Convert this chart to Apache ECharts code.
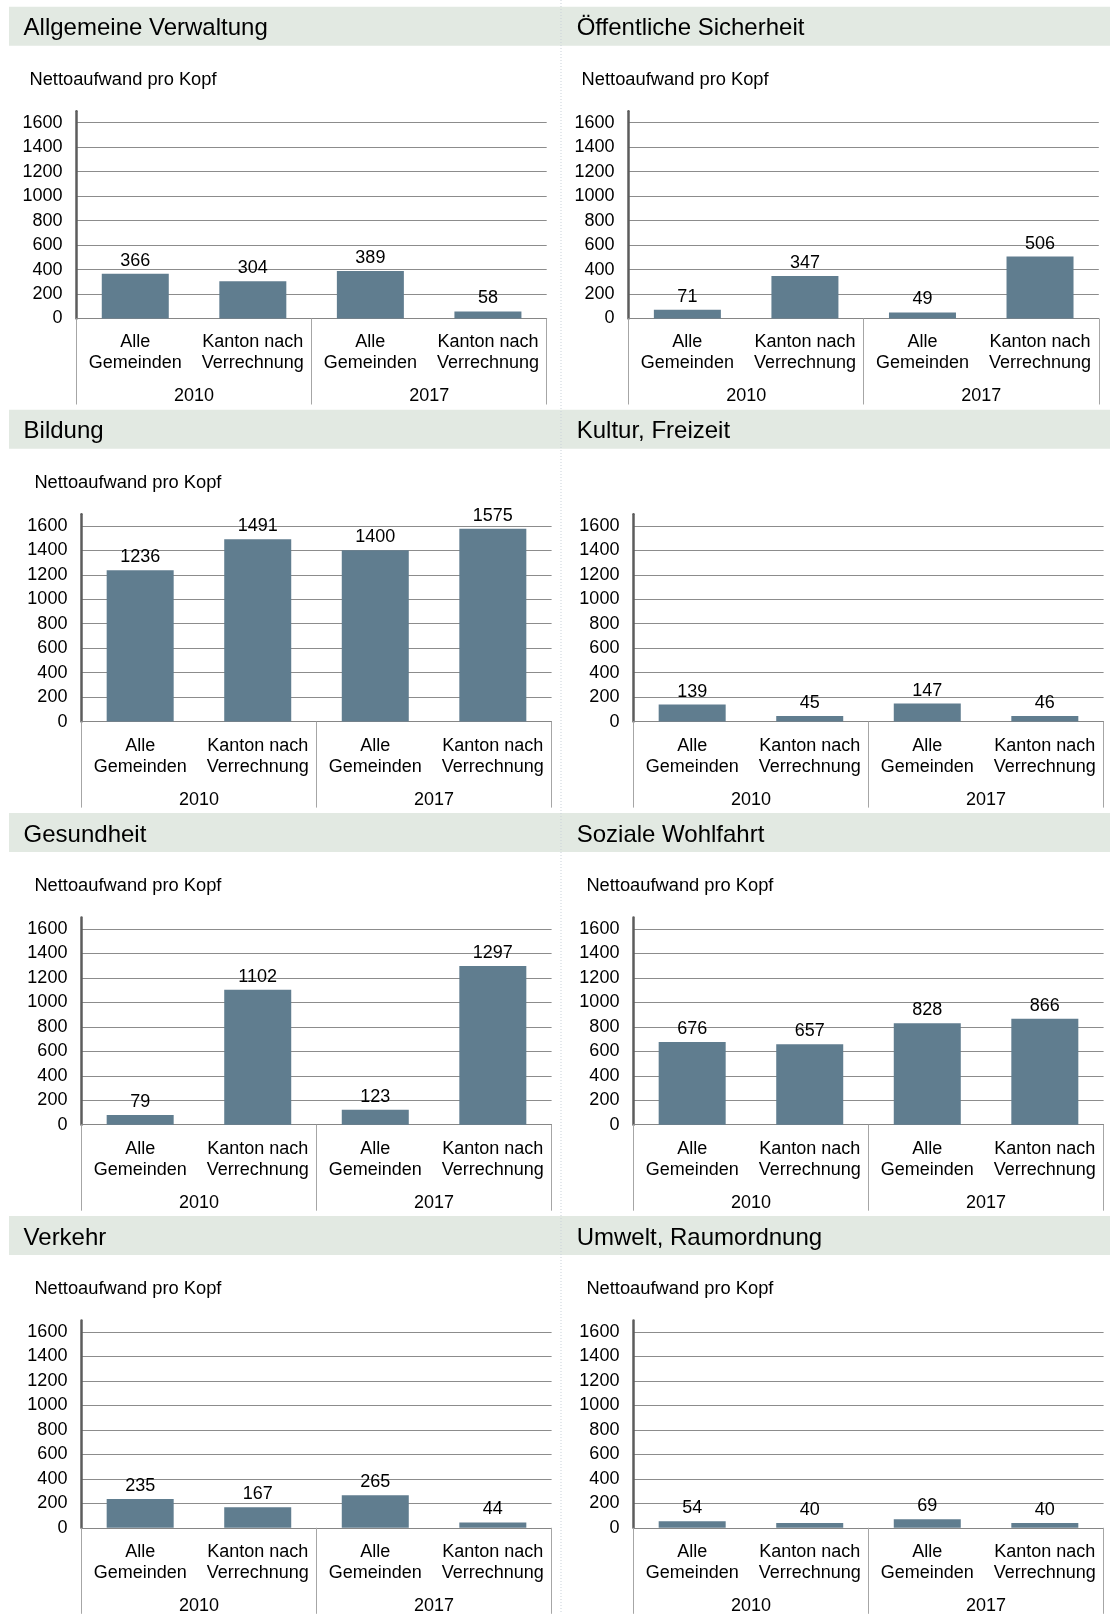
<!DOCTYPE html>
<html>
<head>
<meta charset="utf-8">
<script src="https://cdn.jsdelivr.net/npm/echarts@6/dist/echarts.min.js"></script>
<style>
html,body{margin:0;padding:0;background:#ffffff;}
#c{width:1110px;height:1614px;}
</style>
</head>
<body>
<div id="c"></div>
<script>
// ---- data ----
const categories = ['Alle\nGemeinden', 'Kanton nach\nVerrechnung', 'Alle\nGemeinden', 'Kanton nach\nVerrechnung'];
const years = ['2010', '2017'];
const yMin = 0;
const yTickInterval = 200;
const yTopTick = 1600;
const subtitleText = 'Nettoaufwand pro Kopf';

const allgemeineVerwaltung = [366, 304, 389, 58];
const oeffentlicheSicherheit = [71, 347, 49, 506];
const bildung = [1236, 1491, 1400, 1575];
const kulturFreizeit = [139, 45, 147, 46];
const gesundheit = [79, 1102, 123, 1297];
const sozialeWohlfahrt = [676, 657, 828, 866];
const verkehr = [235, 167, 265, 44];
const umweltRaumordnung = [54, 40, 69, 40];

const panels = [
  { title: 'Allgemeine Verwaltung', sub: true, values: allgemeineVerwaltung },
  { title: 'Öffentliche Sicherheit', sub: true, values: oeffentlicheSicherheit },
  { title: 'Bildung', sub: true, values: bildung },
  { title: 'Kultur, Freizeit', sub: false, values: kulturFreizeit },
  { title: 'Gesundheit', sub: true, values: gesundheit },
  { title: 'Soziale Wohlfahrt', sub: true, values: sozialeWohlfahrt },
  { title: 'Verkehr', sub: true, values: verkehr },
  { title: 'Umwelt, Raumordnung', sub: true, values: umweltRaumordnung }
];

// ---- styling / layout ----
const FONT = "'Liberation Sans', Arial, Helvetica, sans-serif";
const BAND = '#e2e9e2';
const BAR = '#607d8f';
const ROW_STEP = 403.1;
const PX_PER_UNIT = 195.8 / 1600;
const AXIS_TOP_EXTRA = 104.5; // grid top offset from band top
const ZERO_OFFSET = 311.8;     // zero line offset from band top
const gridHeight = ZERO_OFFSET - AXIS_TOP_EXTRA;
const yMax = yTopTick + (gridHeight - 195.8) / PX_PER_UNIT;

const grid = [], xAxis = [], yAxis = [], series = [], title = [], graphic = [];

panels.forEach((p, i) => {
  const r = Math.floor(i / 2), c = i % 2;
  const bandTop = 6.7 + ROW_STEP * r;
  const gl = c === 0 ? (r === 0 ? 76.5 : 81.4) : (r === 0 ? 628.6 : 633.4);
  const bandLeft = c === 0 ? 9 : 561;
  const bandRight = c === 0 ? 561 : 1110;

  graphic.push({
    type: 'rect', z: 0, silent: true,
    shape: { x: bandLeft, y: bandTop, width: bandRight - bandLeft, height: 39 },
    style: { fill: BAND }
  });

  title.push({
    text: p.title, left: c === 0 ? 23.6 : 576.7, top: bandTop + 7, padding: 0,
    textStyle: { fontFamily: FONT, fontSize: 24, fontWeight: 'normal', color: '#000', lineHeight: 30 }
  });
  if (p.sub) {
    title.push({
      text: subtitleText, left: gl - 47, top: bandTop + 61, padding: 0,
      textStyle: { fontFamily: FONT, fontSize: 18.3, fontWeight: 'normal', color: '#000', lineHeight: 24 }
    });
  }

  grid.push({
    left: gl, top: bandTop + AXIS_TOP_EXTRA, width: 470.2, height: gridHeight,
    containLabel: false, outerBoundsMode: 'none'
  });

  xAxis.push({
    type: 'category', gridIndex: i, data: categories, position: 'bottom',
    axisLine: { show: true, onZero: false, lineStyle: { color: '#868686', width: 1 } },
    axisTick: { show: false },
    splitLine: { show: false },
    axisLabel: { interval: 0, margin: 13.5, fontFamily: FONT, fontSize: 18, lineHeight: 21, color: '#000', hideOverlap: false }
  });
  xAxis.push({
    type: 'category', gridIndex: i, data: years, position: 'bottom', offset: 0,
    axisLine: { show: false },
    axisTick: { show: true, length: 86, lineStyle: { color: '#a6a6a6', width: 1 } },
    splitLine: { show: false },
    axisLabel: { interval: 0, margin: 67.5, fontFamily: FONT, fontSize: 18, lineHeight: 21, color: '#000', hideOverlap: false }
  });

  yAxis.push({
    type: 'value', gridIndex: i, min: yMin, max: yMax, interval: yTickInterval,
    axisLine: { show: true, lineStyle: { color: '#5c5c5c', width: 2.5 } },
    axisTick: { show: false },
    axisLabel: {
      showMaxLabel: false, margin: 14, fontFamily: FONT, fontSize: 18, color: '#000',
      formatter: v => (v > yTopTick ? '' : String(v))
    },
    splitLine: { show: true, showMaxLine: false, lineStyle: { color: '#8c8c8c', width: 1 } }
  });

  series.push({
    type: 'bar', xAxisIndex: 2 * i, yAxisIndex: i, data: p.values,
    barWidth: '57%', silent: true, animation: false,
    itemStyle: { color: BAR },
    label: {
      show: true, position: 'top', distance: 4, fontFamily: FONT, fontSize: 18, color: '#000',
      formatter: q => String(q.value)
    }
  });
});

graphic.push({
  type: 'line', z: 10, silent: true,
  shape: { x1: 561, y1: 0, x2: 561, y2: 1614 },
  style: { stroke: '#c9d1d9', lineWidth: 1, lineDash: [1, 2] }
});

const chart = echarts.init(document.getElementById('c'), null, { renderer: 'canvas' });
chart.setOption({
  animation: false,
  backgroundColor: '#ffffff',
  textStyle: { fontFamily: FONT },
  title, grid, xAxis, yAxis, series, graphic,
  tooltip: { show: false }
});
</script>
</body>
</html>
